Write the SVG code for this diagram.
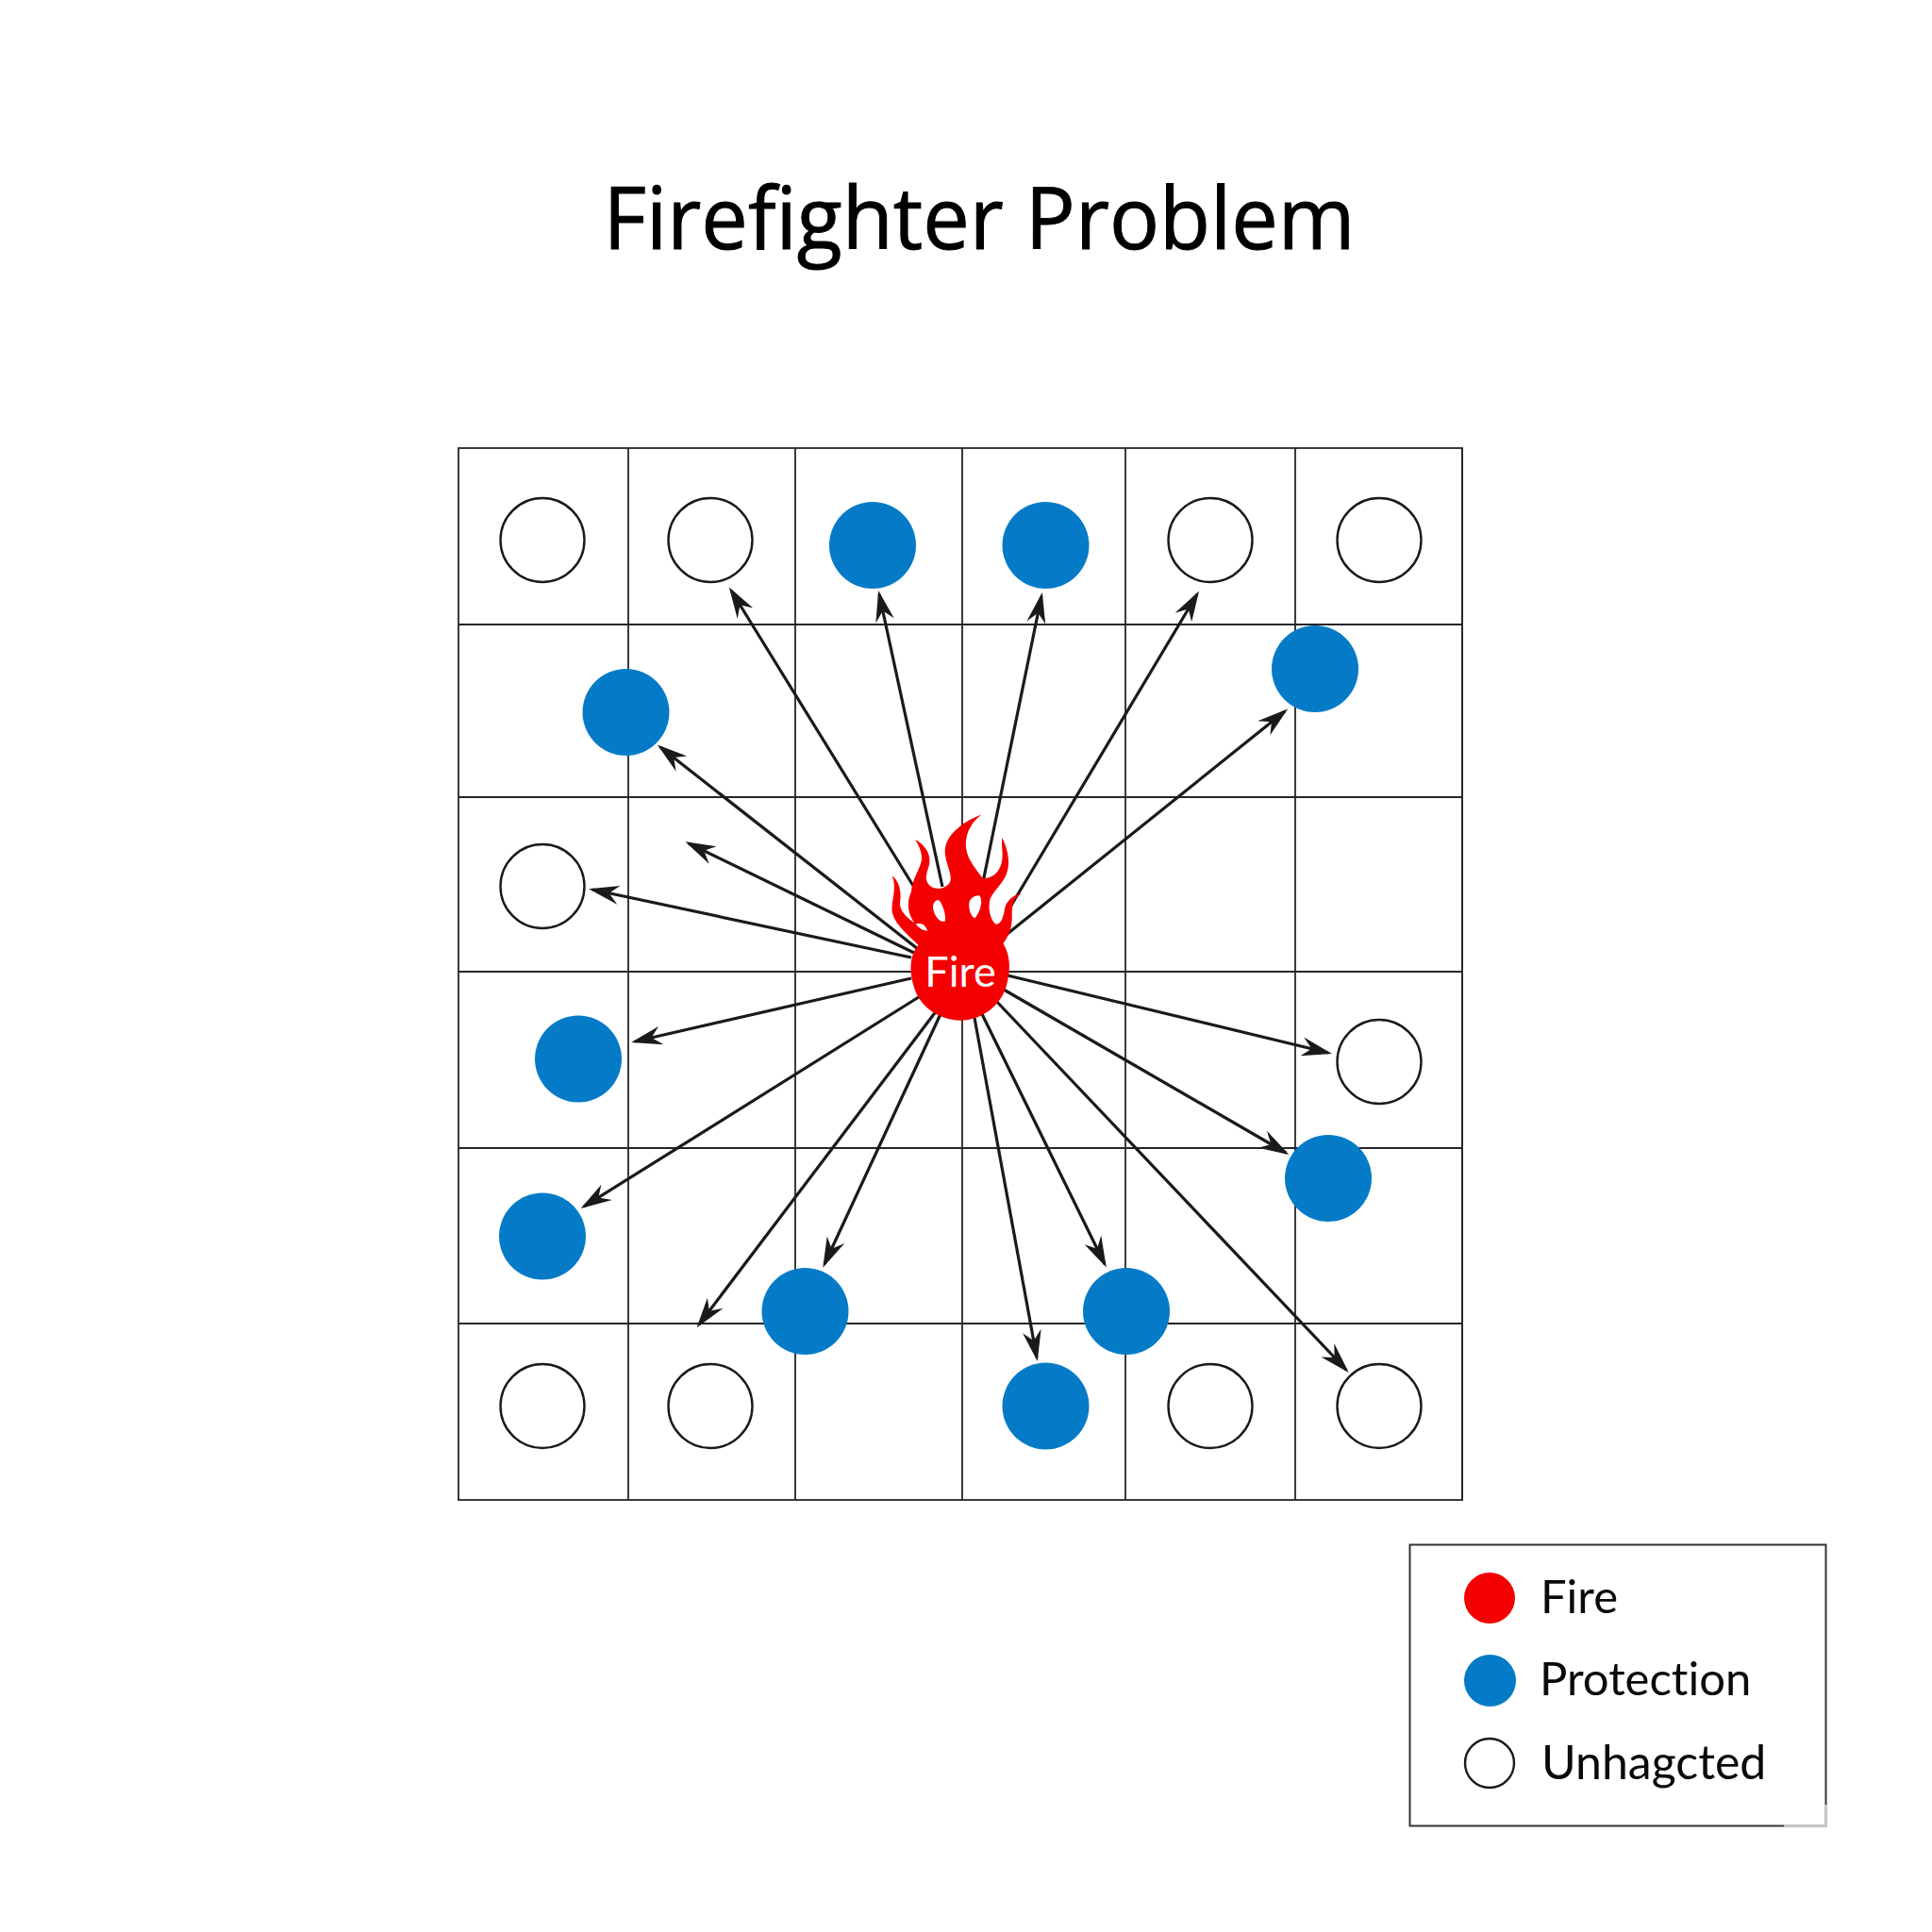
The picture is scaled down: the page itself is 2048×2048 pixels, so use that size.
<svg xmlns="http://www.w3.org/2000/svg" width="2048" height="2048" viewBox="0 0 2048 2048">
<style>
text{font-family:"Lato","Liberation Sans",sans-serif;fill:#0a0a0a;font-variant-ligatures:none}
.g{stroke:#262626;stroke-width:1.8;fill:none}
.h{fill:#fff;stroke:#1a1a1a;stroke-width:2.4}
.b{fill:#057bc8}
.a{stroke:#1a1a1a;stroke-width:3.2;fill:none;marker-end:url(#ah)}
.l{font-size:49px}
</style>
<defs>
<marker id="ah" markerUnits="userSpaceOnUse" markerWidth="40" markerHeight="30" refX="30" refY="15" orient="auto" overflow="visible">
<path d="M34,15 L1,5 L12,15 L2,25Z" fill="#1a1a1a"/>
</marker>
</defs>
<rect width="2048" height="2048" fill="#fff"/>
<text id="title" x="1038" y="264" text-anchor="middle" font-size="92" textLength="797" lengthAdjust="spacingAndGlyphs" style="font-family:'Open Sans','Liberation Sans',sans-serif;fill:#000;stroke:#000;stroke-width:1">Firefighter Problem</text>
<g id="grid" class="g">
<rect x="486" y="475" width="1064" height="1115"/>
<path d="M666,475V1590M843,475V1590M1020,475V1590M1193,475V1590M1373,475V1590M1550,475V1590M486,662H1550M486,845H1550M486,1030H1550M486,1217H1550M486,1403H1550"/>
</g>
<g id="connectors">
<line class="a" x1="973" y1="947" x2="775" y2="626"/>
<line class="a" x1="999" y1="940" x2="932" y2="630"/>
<line class="a" x1="1041" y1="940" x2="1104" y2="632"/>
<line class="a" x1="1064" y1="973" x2="1269" y2="630"/>
<line class="a" x1="1064" y1="993" x2="1362" y2="754"/>
<line class="a" x1="973" y1="1006" x2="700" y2="792"/>
<line class="a" x1="973" y1="1012" x2="730" y2="894"/>
<line class="a" x1="966" y1="1015" x2="628" y2="943"/>
<line class="a" x1="966" y1="1037" x2="673" y2="1104"/>
<line class="a" x1="977" y1="1055" x2="619" y2="1279"/>
<line class="a" x1="993" y1="1071" x2="741" y2="1404"/>
<line class="a" x1="997" y1="1075" x2="874" y2="1340"/>
<line class="a" x1="1033" y1="1079" x2="1099" y2="1439"/>
<line class="a" x1="1041" y1="1075" x2="1171" y2="1340"/>
<line class="a" x1="1055" y1="1060" x2="1427" y2="1452"/>
<line class="a" x1="1064" y1="1049" x2="1363" y2="1222"/>
<line class="a" x1="1068" y1="1034" x2="1408" y2="1116"/>
</g>
<g id="unhagcted-nodes">
<circle id="u1" class="h" cx="575" cy="572.500" r="44.500"/>
<circle id="u2" class="h" cx="753" cy="572.500" r="44.500"/>
<circle id="u3" class="h" cx="1283" cy="572.500" r="44.500"/>
<circle id="u4" class="h" cx="1462" cy="572.500" r="44.500"/>
<circle id="u5" class="h" cx="575" cy="939.500" r="44.500"/>
<circle id="u6" class="h" cx="1462" cy="1125.500" r="44.500"/>
<circle id="u7" class="h" cx="575" cy="1490.500" r="44.500"/>
<circle id="u8" class="h" cx="753" cy="1490.500" r="44.500"/>
<circle id="u9" class="h" cx="1283" cy="1490.500" r="44.500"/>
<circle id="u10" class="h" cx="1462" cy="1490.500" r="44.500"/>
</g>
<g id="protection-nodes">
<circle id="p1" class="b" cx="925" cy="578" r="46"/>
<circle id="p2" class="b" cx="1108.500" cy="578" r="46"/>
<circle id="p3" class="b" cx="1394" cy="709" r="46"/>
<circle id="p4" class="b" cx="663.500" cy="755" r="46"/>
<circle id="p5" class="b" cx="613" cy="1122.500" r="46"/>
<circle id="p6" class="b" cx="575" cy="1310.500" r="46"/>
<circle id="p7" class="b" cx="853.500" cy="1390" r="46"/>
<circle id="p8" class="b" cx="1194" cy="1390" r="46"/>
<circle id="p9" class="b" cx="1408" cy="1249" r="46"/>
<circle id="p10" class="b" cx="1108.500" cy="1490.500" r="46"/>
</g>
<g id="fire">
<g transform="translate(880,830) scale(.33333)">
<path fill="#f50000" fill-rule="evenodd" d="M280,515C255,490 210,455 198,415C190,380 215,340 197,295C218,310 228,345 222,380C220,405 240,425 268,445C250,420 240,385 258,345C260,310 280,285 290,250C295,225 282,197 270,180C300,195 322,225 315,260C308,285 298,305 315,325C330,340 360,340 378,320C395,295 365,260 365,215C367,160 430,120 482,100C450,125 428,160 432,205C436,245 465,275 485,303C510,305 535,290 545,255C552,225 543,200 547,174C562,205 572,240 565,275C556,315 525,335 510,365C500,395 508,435 528,450C550,445 552,415 556,395C565,370 585,355 610,352C585,362 578,385 578,420C580,455 570,485 550,510C572,545 575,590 562,640C545,710 480,755 415,755C345,755 280,710 264,640C250,590 255,545 280,515Z
M345,372C358,385 370,420 365,440C345,445 328,415 327,395C328,380 335,372 345,372Z
M475,358C487,375 478,410 460,430C445,425 435,385 447,370C455,360 465,358 475,358Z"/>
<path fill="#fff" d="M272,448C285,445 300,445 310,470C295,470 282,462 272,448Z"/>
</g>
<text x="1018" y="1046" text-anchor="middle" font-size="45" style="fill:#fff">Fire</text>
</g>
<g id="legend">
<rect x="1494.500" y="1637.500" width="441" height="298" fill="#fff" stroke="#333" stroke-width="2"/>
<path d="M1891,1935.500H1935.500V1913" fill="none" stroke="#ccc" stroke-width="2.500"/>
<g id="legend-fire"><circle cx="1579" cy="1694" r="27" fill="#f50000"/><text class="l" x="1633" y="1710">Fire</text></g>
<g id="legend-protection"><circle cx="1579.500" cy="1781.500" r="27.500" class="b"/><text class="l" x="1632" y="1797">Protection</text></g>
<g id="legend-unhagcted"><circle cx="1579" cy="1869" r="26" class="h"/><text x="1634" y="1886" font-size="50">Unhagcted</text></g>
</g>
</svg>
